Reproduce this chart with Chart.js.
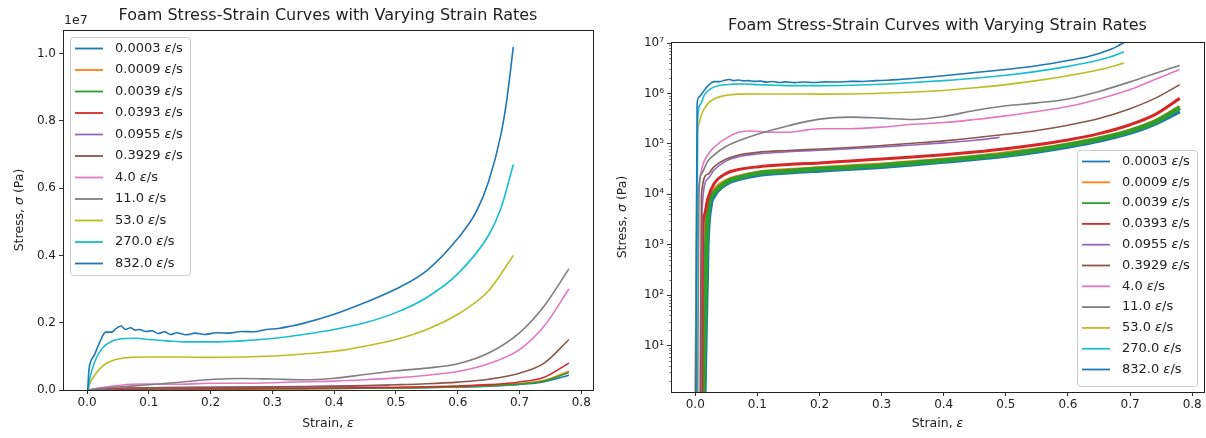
<!DOCTYPE html>
<html>
<head>
<meta charset="utf-8">
<script src="https://cdn.jsdelivr.net/npm/chart.js@4.4.1/dist/chart.umd.min.js"></script>
<style>
  body { margin: 0; background: #fff; }
  .pane { position: absolute; top: 0; height: 438px; }
</style>
</head>
<body>
<div class="pane" style="left:0;width:600px"><canvas id="linear-chart"></canvas></div>
<div class="pane" style="left:600px;width:606px"><canvas id="log-chart"></canvas></div>
<script>
// strain rates (legend) and matplotlib default colour cycle
const rates = ['0.0003', '0.0009', '0.0039', '0.0393', '0.0955', '0.3929', '4.0', '11.0', '53.0', '270.0', '832.0'];
const colors = ['#1f77b4', '#ff7f0e', '#2ca02c', '#d62728', '#9467bd', '#8c564b', '#e377c2', '#7f7f7f', '#bcbd22', '#17becf', '#1f77b4'];

// tick values
const strainTicks = [0, 0.1, 0.2, 0.3, 0.4, 0.5, 0.6, 0.7, 0.8];
const stressTicks = [0, 2e6, 4e6, 6e6, 8e6, 1e7];
const logTicks = [1e1, 1e2, 1e3, 1e4, 1e5, 1e6, 1e7];

// strain / stress (Pa)
const strain0003 = [0.015, 0.02, 0.025, 0.03, 0.05, 0.07, 0.1, 0.15, 0.2, 0.25, 0.3, 0.35, 0.4, 0.45, 0.5, 0.55, 0.6, 0.65, 0.7, 0.74, 0.78];
const stress0003 = [0, 1e3, 6e3, 9e3, 1.6e4, 2e4, 2.4e4, 2.7e4, 2.95e4, 3.2e4, 3.5e4, 3.9e4, 4.4e4, 5e4, 5.8e4, 7e4, 8.8e4, 1.15e5, 1.65e5, 2.5e5, 4.4e5];
const strain0009 = [0.012, 0.015, 0.02, 0.03, 0.05, 0.07, 0.1, 0.15, 0.2, 0.25, 0.3, 0.35, 0.4, 0.45, 0.5, 0.55, 0.6, 0.65, 0.7, 0.74, 0.78];
const stress0009 = [0, 2e3, 6e3, 1.2e4, 1.9e4, 2.3e4, 2.75e4, 3.1e4, 3.4e4, 3.7e4, 4e4, 4.5e4, 5e4, 5.7e4, 6.7e4, 8e4, 1e5, 1.32e5, 1.9e5, 2.9e5, 5.6e5];
const strain0039 = [0.013, 0.018, 0.022, 0.03, 0.05, 0.07, 0.1, 0.15, 0.2, 0.25, 0.3, 0.35, 0.4, 0.45, 0.5, 0.55, 0.6, 0.65, 0.7, 0.74, 0.78];
const stress0039 = [0, 1e3, 6e3, 1.05e4, 1.75e4, 2.15e4, 2.6e4, 2.9e4, 3.2e4, 3.45e4, 3.75e4, 4.2e4, 4.7e4, 5.4e4, 6.2e4, 7.5e4, 9.5e4, 1.25e5, 1.8e5, 2.7e5, 5.2e5];
const strain0393 = [0.010, 0.012, 0.015, 0.02, 0.03, 0.05, 0.07, 0.1, 0.15, 0.2, 0.25, 0.3, 0.35, 0.4, 0.45, 0.5, 0.55, 0.6, 0.65, 0.7, 0.74, 0.78];
const stress0393 = [0, 2e3, 4e3, 8e3, 1.6e4, 2.6e4, 3.1e4, 3.5e4, 3.9e4, 4.2e4, 4.6e4, 5e4, 5.5e4, 6.1e4, 6.9e4, 8e4, 9.6e4, 1.2e5, 1.6e5, 2.4e5, 3.8e5, 8e5];
const strain0955 = [0.009, 0.011, 0.02, 0.03, 0.05, 0.07, 0.1, 0.15, 0.2, 0.25, 0.3, 0.35, 0.4, 0.45, 0.49];
const stress0955 = [0, 5e3, 2e4, 3e4, 4.6e4, 5.6e4, 6.3e4, 7e4, 7.5e4, 8e4, 8.7e4, 9.5e4, 1.05e5, 1.18e5, 1.35e5];
const strain3929 = [0.008, 0.01, 0.02, 0.03, 0.05, 0.07, 0.1, 0.15, 0.2, 0.25, 0.3, 0.35, 0.4, 0.45, 0.5, 0.55, 0.6, 0.65, 0.7, 0.74, 0.78];
const stress3929 = [0, 1e4, 2.5e4, 3.5e4, 5e4, 6e4, 6.8e4, 7.4e4, 7.9e4, 8.5e4, 9.3e4, 1.03e5, 1.15e5, 1.32e5, 1.55e5, 1.85e5, 2.35e5, 3.2e5, 5e5, 8e5, 1.5e6];
const strain4 = [0, 0.002, 0.005, 0.01, 0.02, 0.03, 0.05, 0.07, 0.09, 0.12, 0.15, 0.18, 0.2, 0.25, 0.3, 0.35, 0.4, 0.45, 0.5, 0.55, 0.6, 0.65, 0.7, 0.74, 0.78];
const stress4 = [0, 1e3, 1e4, 3e4, 6e4, 8.5e4, 1.3e5, 1.7e5, 1.8e5, 1.7e5, 1.7e5, 1.9e5, 2e5, 2e5, 2.15e5, 2.45e5, 2.65e5, 3.05e5, 3.6e5, 4.4e5, 5.5e5, 7.8e5, 1.2e6, 1.9e6, 3.0e6];
const strain11 = [0.004, 0.006, 0.01, 0.02, 0.03, 0.05, 0.07, 0.1, 0.15, 0.2, 0.25, 0.3, 0.35, 0.4, 0.45, 0.5, 0.55, 0.6, 0.65, 0.7, 0.74, 0.78];
const stress11 = [0, 1e4, 2.5e4, 4.5e4, 6e4, 9e4, 1.15e5, 1.55e5, 2.3e5, 3.1e5, 3.4e5, 3.25e5, 3.05e5, 3.5e5, 4.6e5, 5.7e5, 6.5e5, 7.8e5, 1.1e6, 1.7e6, 2.5e6, 3.6e6];
const strain53 = [0, 0.003, 0.006, 0.01, 0.02, 0.03, 0.05, 0.07, 0.1, 0.15, 0.2, 0.25, 0.3, 0.35, 0.4, 0.45, 0.5, 0.55, 0.6, 0.65, 0.69];
const stress53 = [0, 1.2e5, 2.5e5, 3.8e5, 6.2e5, 7.8e5, 9.2e5, 9.7e5, 9.8e5, 9.8e5, 9.7e5, 9.8e5, 1.01e6, 1.07e6, 1.15e6, 1.3e6, 1.5e6, 1.8e6, 2.25e6, 2.95e6, 4.0e6];
const strain270 = [0.002, 0.004, 0.008, 0.015, 0.025, 0.04, 0.06, 0.08, 0.1, 0.13, 0.16, 0.2, 0.25, 0.3, 0.35, 0.4, 0.45, 0.5, 0.55, 0.6, 0.65, 0.67, 0.69];
const stress270 = [0, 3e5, 6e5, 9.5e5, 1.25e6, 1.45e6, 1.53e6, 1.54e6, 1.5e6, 1.46e6, 1.43e6, 1.43e6, 1.46e6, 1.53e6, 1.65e6, 1.8e6, 2.0e6, 2.3e6, 2.75e6, 3.45e6, 4.6e6, 5.4e6, 6.7e6];
const strain832 = [0.001, 0.003, 0.006, 0.012, 0.02, 0.03, 0.04, 0.047, 0.055, 0.062, 0.07, 0.078, 0.085, 0.095, 0.105, 0.115, 0.125, 0.135, 0.145, 0.16, 0.175, 0.19, 0.21, 0.23, 0.25, 0.27, 0.29, 0.31, 0.33, 0.35, 0.4, 0.45, 0.5, 0.55, 0.6, 0.63, 0.65, 0.67, 0.68, 0.69];
const stress832 = [0, 6e5, 8.5e5, 1.05e6, 1.4e6, 1.72e6, 1.72e6, 1.83e6, 1.9e6, 1.8e6, 1.85e6, 1.78e6, 1.8e6, 1.74e6, 1.76e6, 1.68e6, 1.73e6, 1.65e6, 1.7e6, 1.64e6, 1.69e6, 1.65e6, 1.7e6, 1.69e6, 1.74e6, 1.73e6, 1.8e6, 1.83e6, 1.9e6, 1.98e6, 2.25e6, 2.6e6, 3.0e6, 3.55e6, 4.5e6, 5.3e6, 6.2e6, 7.6e6, 8.7e6, 1.02e7];

const strains = [strain0003, strain0009, strain0039, strain0393, strain0955, strain3929, strain4, strain11, strain53, strain270, strain832];
const stresses = [stress0003, stress0009, stress0039, stress0393, stress0955, stress3929, stress4, stress11, stress53, stress270, stress832];

const FONT = "'DejaVu Sans', sans-serif";
const TXT = '#222';
const supers = { '0': '\u2070', '1': '\u00b9', '2': '\u00b2', '3': '\u00b3', '4': '\u2074', '5': '\u2075', '6': '\u2076', '7': '\u2077' };

function partsWidth(ctx, parts, size)
{
    let w = 0;
    for (const p of parts) {
        ctx.font = (p[1] ? 'italic ' : '') + size + 'px ' + FONT;
        w += ctx.measureText(p[0]).width;
    }
    return w;
}

// draw text made of [text, italic] pieces, anchored left or centre
function drawParts(ctx, parts, x, y, size, centre)
{
    let cx = centre ? x - partsWidth(ctx, parts, size) / 2 : x;
    ctx.textBaseline = 'middle';
    ctx.textAlign = 'left';
    ctx.fillStyle = TXT;
    for (const p of parts) {
        ctx.font = (p[1] ? 'italic ' : '') + size + 'px ' + FONT;
        ctx.fillText(p[0], cx, y);
        cx += ctx.measureText(p[0]).width;
    }
}

function decorPlugin(cfg)
{
    return {
        id: 'decor',
        afterDraw(chart) {
            const ctx = chart.ctx;
            const a = chart.chartArea;
            const cx = (a.left + a.right) / 2;
            ctx.save();

            // minor log ticks
            if (cfg.log) {
                const ys = chart.scales.y;
                ctx.strokeStyle = '#333';
                ctx.lineWidth = 0.6;
                for (let e = 0; e < 8; e++) {
                    for (let m = 2; m < 10; m++) {
                        const v = m * Math.pow(10, e);
                        if (v < ys.min || v > ys.max) continue;
                        const py = Math.round(ys.getPixelForValue(v)) + 0.5;
                        ctx.beginPath();
                        ctx.moveTo(a.left - 2, py);
                        ctx.lineTo(a.left, py);
                        ctx.stroke();
                    }
                }
            }

            // axes frame
            ctx.strokeStyle = '#222';
            ctx.lineWidth = 1;
            ctx.strokeRect(Math.round(a.left) + 0.5, Math.round(a.top) + 0.5, Math.round(a.right - a.left), Math.round(a.bottom - a.top));

            // title and axis labels
            drawParts(ctx, [['Foam Stress-Strain Curves with Varying Strain Rates', false]], cx, cfg.titleY, 16, true);
            drawParts(ctx, [['Strain, ', false], ['\u03b5', true]], cx, 424, 12.5, true);
            ctx.save();
            ctx.translate(cfg.ylabelX, (a.top + a.bottom) / 2);
            ctx.rotate(-Math.PI / 2);
            drawParts(ctx, [['Stress, ', false], ['\u03c3', true], [' (Pa)', false]], 0, 0, 12.5, true);
            ctx.restore();
            if (!cfg.log) drawParts(ctx, [['1e7', false]], a.left + 1, 21, 12.5, false);

            // legend
            const L = cfg.legend;
            ctx.fillStyle = 'rgba(255,255,255,0.85)';
            ctx.strokeStyle = 'rgba(200,200,200,0.9)';
            ctx.lineWidth = 1;
            ctx.beginPath();
            ctx.roundRect(L.x + 0.5, L.y + 0.5, L.w, L.h, 3);
            ctx.fill();
            ctx.stroke();
            rates.forEach((r, i) => {
                const y = L.y + 11.5 + i * L.row;
                ctx.strokeStyle = colors[i];
                ctx.lineWidth = 1.8;
                ctx.beginPath();
                ctx.moveTo(L.x + 5, y);
                ctx.lineTo(L.x + 33, y);
                ctx.stroke();
                drawParts(ctx, [[r + ' ', false], ['\u03b5', true], ['/s', false]], L.x + 45, y, 13, false);
            });
            ctx.restore();
        }
    };
}

function makeChart(id, cfg)
{
    // on the log axis a zero stress is sent just below the axis floor
    const datasets = rates.map((r, i) => ({
        label: r + ' \u03b5/s',
        data: strains[i].map((x, j) => ({ x: x, y: cfg.log ? Math.max(stresses[i][j], 1) : stresses[i][j] })),
        borderColor: colors[i],
        borderWidth: cfg.widths[i],
        pointRadius: 0,
        cubicInterpolationMode: 'monotone',
        fill: false,
        order: rates.length - i
    }));

    const tickFont = { family: FONT, size: 12 };
    const grid = { display: true, drawOnChartArea: false, drawTicks: true, tickLength: 4, color: '#333', tickColor: '#333' };

    const yScale = cfg.log ? {
        type: 'logarithmic',
        min: 1.2,
        max: 1.05e7,
        grid: grid,
        border: { display: false },
        afterBuildTicks: s => { s.ticks = logTicks.map(v => ({ value: v })); },
        afterFit: s => { s.width = cfg.yWidth; },
        ticks: {
            font: tickFont, color: TXT, padding: 3, autoSkip: false,
            callback: v => '10' + supers[String(Math.round(Math.log10(v)))]
        }
    } : {
        type: 'linear',
        min: 0,
        max: 1.07e7,
        grid: grid,
        border: { display: false },
        afterBuildTicks: s => { s.ticks = stressTicks.map(v => ({ value: v })); },
        afterFit: s => { s.width = cfg.yWidth; },
        ticks: {
            font: tickFont, color: TXT, padding: 3, autoSkip: false,
            callback: v => (v / 1e7).toFixed(1)
        }
    };

    return new Chart(document.getElementById(id), {
        type: 'line',
        data: { datasets: datasets },
        options: {
            responsive: true,
            maintainAspectRatio: false,
            animation: false,
            layout: { padding: { left: 0, top: cfg.top, right: cfg.right, bottom: 0 } },
            plugins: { legend: { display: false }, tooltip: { enabled: false } },
            scales: {
                x: {
                    type: 'linear',
                    min: -0.039,
                    max: 0.819,
                    grid: grid,
                    border: { display: false },
                    afterBuildTicks: s => { s.ticks = strainTicks.map(v => ({ value: v })); },
                    afterFit: s => { s.height = cfg.xHeight; },
                    ticks: {
                        font: tickFont, color: TXT, padding: 2, maxRotation: 0, autoSkip: false,
                        callback: v => v.toFixed(1)
                    }
                },
                y: yScale
            }
        },
        plugins: [decorPlugin(cfg)]
    });
}

makeChart('linear-chart', {
    log: false, top: 30, right: 7, yWidth: 63, xHeight: 48,
    titleY: 16, ylabelX: 20,
    widths: [1.6, 1.6, 1.6, 1.6, 1.6, 1.6, 1.6, 1.6, 1.6, 1.6, 1.6],
    legend: { x: 70, y: 37, w: 120, h: 238, row: 21.5 }
});

makeChart('log-chart', {
    log: true, top: 42, right: 2, yWidth: 71, xHeight: 46,
    titleY: 26, ylabelX: 23,
    widths: [4, 3, 4.5, 3, 1.6, 1.6, 1.6, 1.6, 1.6, 1.6, 1.6],
    legend: { x: 477, y: 150, w: 120, h: 236, row: 20.8 }
});
</script>
</body>
</html>
